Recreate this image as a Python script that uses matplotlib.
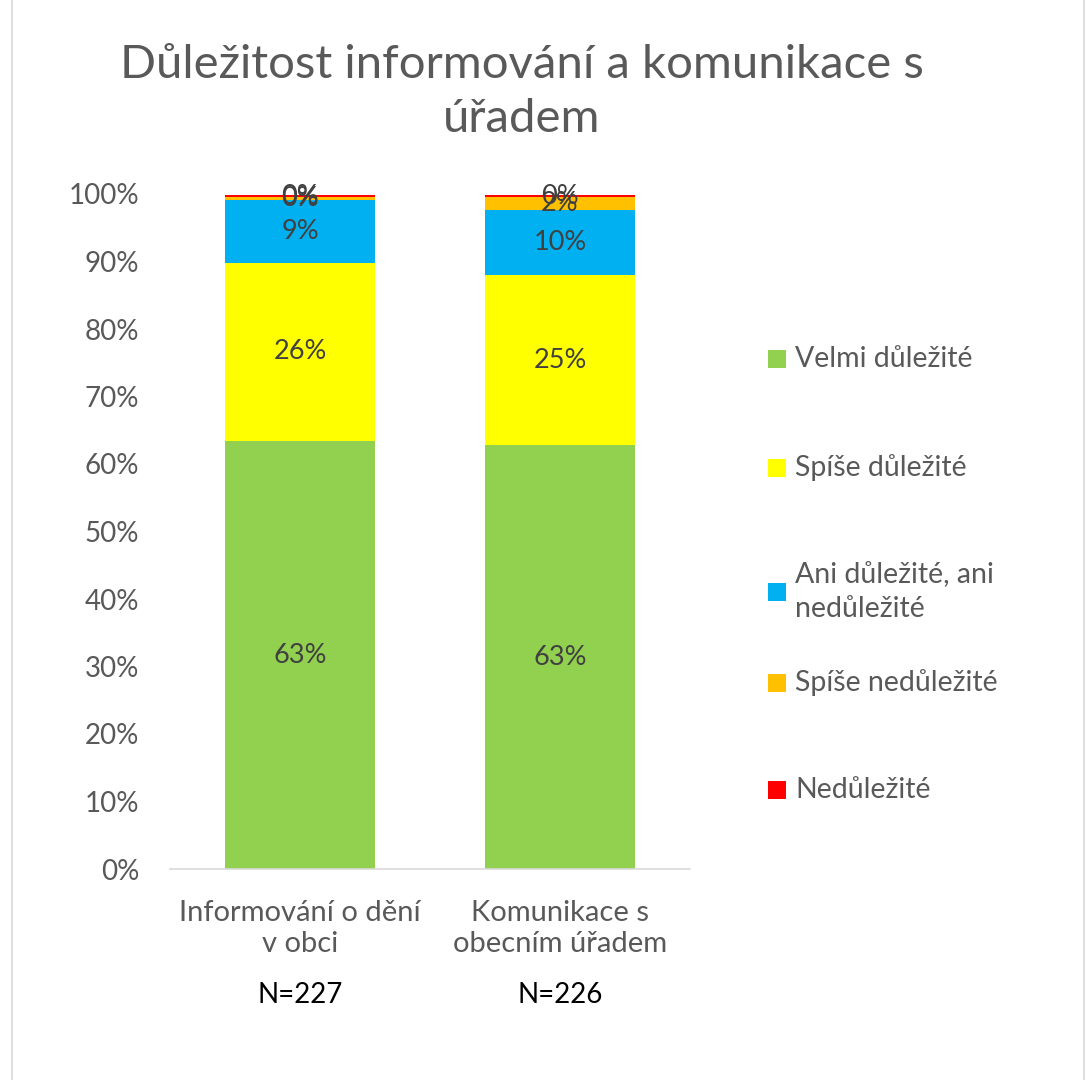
import matplotlib
matplotlib.use("Agg")
import matplotlib.pyplot as plt
from matplotlib.patches import Rectangle

plt.rcParams['font.family'] = ['Lato', 'Open Sans', 'DejaVu Sans']

title = "Důležitost informování a komunikace s\núřadem"
categories = ["Informování o dění\nv obci", "Komunikace s\nobecním úřadem"]
sample_sizes = ["N=227", "N=226"]
series_names = ["Velmi důležité", "Spíše důležité", "Ani důležité, ani\nnedůležité",
                "Spíše nedůležité", "Nedůležité"]
series_colors = ["#92D050", "#FFFF00", "#00B0F0", "#FFC000", "#FF0000"]
# share of answers (%) per category, bottom to top
velmi = [63.4, 62.8]
spise = [26.4, 25.2]
ani = [9.3, 9.7]
spise_ne = [0.4, 1.8]
ne = [0.4, 0.4]
series_values = [velmi, spise, ani, spise_ne, ne]
yticks = [0, 10, 20, 30, 40, 50, 60, 70, 80, 90, 100]

W, H = 1092, 1080
fig = plt.figure(figsize=(W / 100, H / 100), dpi=100)
fig.patches.append(Rectangle((12 / W, -0.01), (1084 - 12) / W, 1.02, transform=fig.transFigure,
                             fill=False, edgecolor="#D9D9D9", linewidth=1.2))

ax = fig.add_axes([170 / W, 1 - 869 / H, 520 / W, (869 - 194) / H])
x = [0, 1]
bottom = [0.0, 0.0]
for vals, col in zip(series_values, series_colors):
    ax.bar(x, vals, width=0.575, bottom=bottom, color=col, edgecolor="none")
    for i, v in enumerate(vals):
        ax.text(x[i], bottom[i] + v / 2, f"{round(v):.0f}%", ha="center", va="center",
                fontsize=19.5, color="#404040")
    bottom = [b + v for b, v in zip(bottom, vals)]

ax.set_xlim(-0.5, 1.5)
ax.set_ylim(0, 100)
ax.set_yticks(yticks)
ax.set_yticklabels([f"{t}%" for t in yticks], fontsize=20, color="#595959")
ax.set_xticks(x)
ax.set_xticklabels([])
for s in ["top", "right", "left"]:
    ax.spines[s].set_visible(False)
ax.spines["bottom"].set_color("#D9D9D9")
ax.spines["bottom"].set_linewidth(1.2)
ax.tick_params(axis="y", length=0, pad=22)
ax.tick_params(axis="x", length=0)

for i, (cat, n) in enumerate(zip(categories, sample_sizes)):
    ax.text(x[i], -4.6, cat, ha="center", va="top", fontsize=21, color="#595959",
            linespacing=1.25)
    ax.text(x[i], -16.8, n, ha="center", va="top", fontsize=20, color="black")

fig.text(522 / W, 1 - 92 / H, title, ha="center", va="center", fontsize=34,
         color="#595959", linespacing=1.36)

legend_y = [359, 468, 592, 683, 790]
for name, col, ly in zip(series_names, series_colors, legend_y):
    fig.patches.append(Rectangle((768 / W, 1 - (ly + 9) / H), 18 / W, 18 / H,
                                 transform=fig.transFigure, facecolor=col, edgecolor="none"))
    fig.text(795 / W, 1 - ly / H, name, ha="left", va="center", fontsize=20.5,
             color="#595959", linespacing=1.4)

fig.savefig("out.png", dpi=100)
